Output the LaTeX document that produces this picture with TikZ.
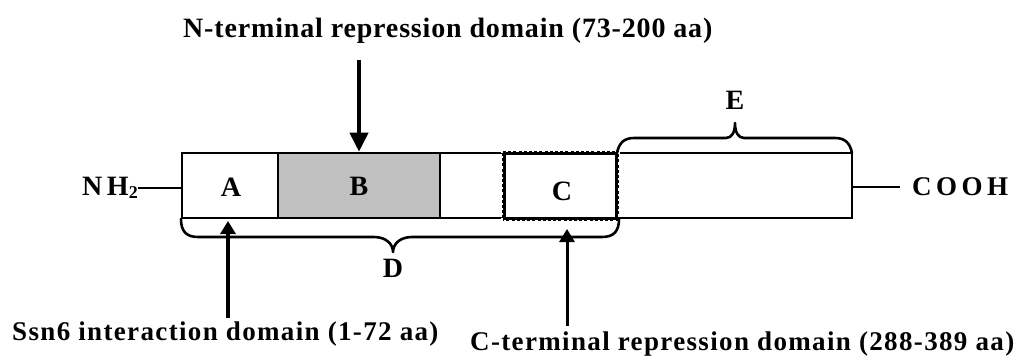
\documentclass[tikz,border=0pt]{standalone}
\usepackage{fontspec}
\setmainfont{Liberation Serif}
\usetikzlibrary{arrows.meta}

\tikzset{
  seg/.style={draw, line width=2.6pt, minimum height=65pt, inner sep=0pt, anchor=center},
  lbl/.style={font=\fontsize{28}{28}\selectfont\bfseries, inner sep=0pt},
  captext/.style={inner sep=0pt, font=\fontsize{27}{27}\selectfont\bfseries\addfontfeatures{LetterSpace=5}},
  brace/.style={line width=2.6pt, line cap=round, line join=round},
  bigarr/.style={line width=4pt, -{Triangle[width=18pt,length=19pt]}},
  smallarr/.style={line width=4pt, -{Triangle[width=15pt,length=13pt]}}
}

\begin{document}
\begin{tikzpicture}[x=1pt,y=-1pt]
\useasboundingbox (0,0) rectangle (1033,362);

% protein bar, one box per region
\node[seg, minimum width=96pt] (segA) at (230,185.5) {};
\node[seg, minimum width=162pt, fill={rgb,255:red,192;green,192;blue,192}] (segB) at (359,185.5) {};
\node[seg, minimum width=64pt] (segGap) at (472,185.5) {};
\node[seg, minimum width=235pt] (segE) at (734.5,185.5) {};

% dotted outline of region C
\node[draw, line width=4.4pt, minimum width=113pt, minimum height=66pt, inner sep=0pt] (segC) at (560.5,186) {};
\draw[white, line width=1.8pt, dash pattern=on 2.2pt off 3pt]
  (segC.north west) rectangle (segC.south east);

% region letters
\node[lbl] (la) at (231,187) {A};
\node[lbl] (lb) at (359,186) {B};
\node[lbl] (lc) at (562,191) {C};
\node[lbl] (le) at (735,100) {E};
\node[lbl] (ld) at (393,268) {D};

% termini
\node[lbl, anchor=east] (nh) at (138,188) {N\,H\raisebox{-0.25ex}{\fontsize{18}{18}\selectfont 2}};
\node[lbl, anchor=west, font=\fontsize{27}{27}\selectfont\bfseries] (cooh) at (912,187) {C\,O\,O\,H};
\draw[line width=2.6pt] (nh.east) -- (nh.east -| segA.west);
\draw[line width=2.6pt] (cooh.west -| segE.east) -- ([xshift=-12pt]cooh.west);

% brace E over the C-terminal region
\draw[brace] (617,153) .. controls (619,143) and (624,138) .. (634,138)
  -- (726,138) .. controls (732,138) and (735,132) .. (735,123)
  .. controls (735,132) and (738,138) .. (744,138)
  -- (835,138) .. controls (845,138) and (850,143) .. (852,153);

% brace D under the N-terminal half
\draw[brace] (181,219) .. controls (181,231) and (186,237) .. (198,237)
  -- (374,237) .. controls (386,237) and (393,244) .. (393,252)
  .. controls (393,244) and (400,237) .. (412,237)
  -- (602,237) .. controls (614,237) and (619,231) .. (619,219);

% domain captions
\node[captext, font=\fontsize{28}{28}\selectfont\bfseries\addfontfeatures{LetterSpace=3}, anchor=base west] (ntext) at (183,37) {N-terminal repression domain (73-200 aa)};
\node[captext, anchor=base west] (stext) at (12,340) {Ssn6 interaction domain (1-72 aa)};
\node[captext, anchor=base west] (ctext) at (470,350) {C-terminal repression domain (288-389 aa)};

% arrows to the domains
\coordinate (ntail) at (359,60);
\coordinate (atail) at (228,318);
\coordinate (ahead) at (228,221);
\coordinate (ctail) at (567,326);
\coordinate (chead) at (567,229);
\draw[bigarr] (ntail) -- (ntail |- segB.north);
\draw[smallarr] (atail) -- (ahead);
\draw[smallarr, line width=3pt] (ctail) -- (chead);
\end{tikzpicture}
\end{document}
